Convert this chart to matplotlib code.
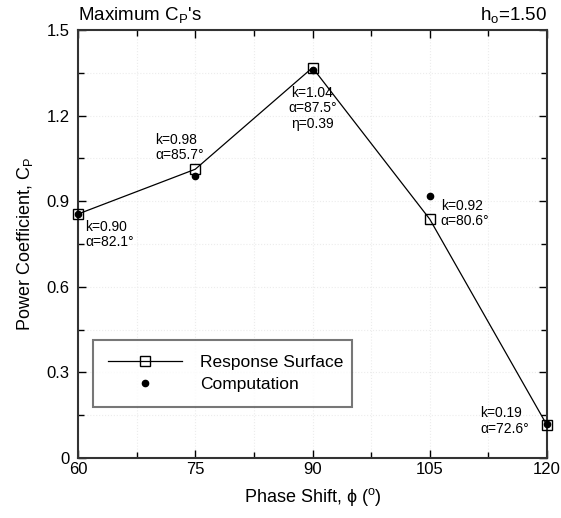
import matplotlib
matplotlib.use("Agg")
import matplotlib.pyplot as plt
from matplotlib.ticker import MultipleLocator

plt.rcParams['font.family'] = ['Liberation Sans', 'DejaVu Sans']
plt.rcParams['mathtext.fontset'] = 'custom'
plt.rcParams['mathtext.rm'] = 'Liberation Sans'
plt.rcParams['mathtext.it'] = 'Liberation Sans'

phase = [60, 75, 90, 105, 120]
cp_response = [0.855, 1.012, 1.368, 0.837, 0.115]
cp_computation = [0.855, 0.988, 1.361, 0.919, 0.12]
notes = ["k=0.90\nα=82.1°", "k=0.98\nα=85.7°", "k=1.04\nα=87.5°\nη=0.39",
         "k=0.92\nα=80.6°", "k=0.19\nα=72.6°"]

fig = plt.figure(figsize=(5.61, 5.18), dpi=100)
ax = fig.add_axes([78/561, 1-458/518, (547-78)/561, (458-30)/518])

ax.plot(phase, cp_response, '-', color='black', lw=0.9, marker='s', ms=7,
        mfc='none', mec='black', mew=1.0, label='Response Surface', zorder=3, clip_on=False)
ax.plot(phase, cp_computation, 'o', color='black', ms=4.5, ls='none',
        label='Computation', zorder=4, clip_on=False)

ax.set_xlim(60, 120)
ax.set_ylim(0, 1.5)
ax.xaxis.set_minor_locator(MultipleLocator(7.5))
ax.yaxis.set_minor_locator(MultipleLocator(0.15))
ax.set_xticks([60, 75, 90, 105, 120])
ax.set_xticklabels(['60', '75', '90', '105', '120'])
ax.set_yticks([0, 0.3, 0.6, 0.9, 1.2, 1.5])
ax.set_yticklabels(['0', '0.3', '0.6', '0.9', '1.2', '1.5'])
ax.tick_params(which='both', direction='in', top=True, right=True, labelsize=12, width=1.0)
ax.tick_params(which='major', length=6)
ax.tick_params(which='minor', length=4)
ax.tick_params(axis='x', pad=3)
ax.tick_params(axis='y', pad=6)
ax.grid(True, which='both', ls=':', color='#ececec', lw=0.8)
for s in ax.spines.values():
    s.set_linewidth(1.5)
    s.set_color('#333333')

ax.set_xlabel('Phase Shift, ϕ ($^{\\rm o}$)', fontsize=13, labelpad=6)
ax.set_ylabel('Power Coefficient, C$_{\\rm P}$', fontsize=13, labelpad=8)

fig.text(78/561, 1-15/518, "Maximum C$_{\\rm P}$'s", fontsize=13.5, va='center', ha='left')
fig.text(547/561, 1-15/518, "h$_{\\rm o}$=1.50", fontsize=13.5, va='center', ha='right')

ls = 1.15
ax.annotate(notes[0], (phase[0], cp_response[0]), xytext=(5, -4), textcoords='offset points',
            ha='left', va='top', fontsize=10, linespacing=ls)
ax.annotate(notes[1], (phase[1], cp_response[1]), xytext=(-29, 5), textcoords='offset points',
            ha='left', va='bottom', fontsize=10, linespacing=ls)
ax.annotate(notes[2], (phase[2], cp_response[2]), xytext=(0, -13), textcoords='offset points',
            ha='center', va='top', fontsize=10, linespacing=ls)
ax.annotate(notes[3], (phase[3], cp_response[3]), xytext=(8, 4), textcoords='offset points',
            ha='left', va='center', fontsize=10, linespacing=ls)
ax.annotate(notes[4], (phase[4], cp_response[4]), xytext=(-48, 3), textcoords='offset points',
            ha='left', va='center', fontsize=10, linespacing=ls)

leg = ax.legend(loc='lower left', bbox_to_anchor=((93-78)/469, (458-407)/428, (352-93)/469, (407-340)/428),
                mode='expand', borderaxespad=0, fontsize=12.5, frameon=True, fancybox=False,
                handlelength=4.3, borderpad=0.85, labelspacing=0.4, handletextpad=1.0)
leg.get_frame().set_edgecolor('#555555')
leg.get_frame().set_linewidth(1.5)

fig.savefig('out.png', dpi=100)
